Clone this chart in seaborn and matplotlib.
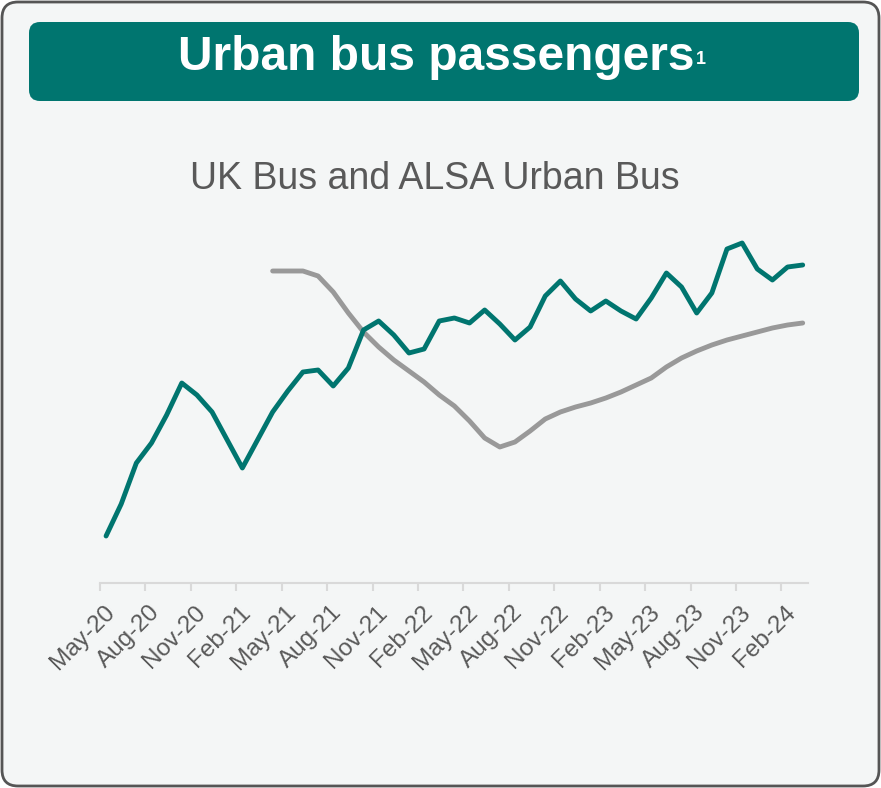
import numpy as np
import pandas as pd
import matplotlib
matplotlib.use("Agg")
import matplotlib.pyplot as plt
import matplotlib.transforms as mtransforms
from matplotlib.patches import FancyBboxPatch
import seaborn as sns

# ---------------- data ----------------
months = pd.date_range("2020-05-01", "2024-03-01", freq="MS").strftime("%b-%y").tolist()

alsa_urban = [47, 79, 120, 140, 168, 200, 188, 171, 143, 115, 143, 171, 192, 211,
              213, 197, 215, 253, 262, 248, 230, 234, 262, 265, 260, 273, 259, 243,
              256, 287, 302, 284, 272, 282, 272, 264, 285, 310, 296, 270, 290, 334,
              340, 314, 303, 316, 318]

uk_bus = [None] * 11 + [312, 312, 312, 307, 291, 270, 251, 236, 223, 212, 201, 188,
                        177, 162, 145, 136, 141, 152, 164, 171, 176, 180, 185, 191,
                        198, 205, 216, 225, 232, 238, 243, 247, 251, 255, 258, 260]

tick_labels = ["May-20", "Aug-20", "Nov-20", "Feb-21", "May-21", "Aug-21", "Nov-21",
               "Feb-22", "May-22", "Aug-22", "Nov-22", "Feb-23", "May-23", "Aug-23",
               "Nov-23", "Feb-24"]

title = "Urban bus passengers"
footnote = "1"
subtitle = "UK Bus and ALSA Urban Bus"

TEAL = "#00756f"
GREY = "#999999"
TEXT = "#595959"

df = pd.DataFrame({"month": months, "idx": np.arange(len(months)),
                   "ALSA": alsa_urban, "UK": uk_bus})
df["UK"] = pd.to_numeric(df["UK"])

# ---------------- figure ----------------
W, H = 881, 788
fig = plt.figure(figsize=(W / 100, H / 100), dpi=100, facecolor="white")
plt.rcParams["font.family"] = ["Liberation Sans", "DejaVu Sans"]

# background axes in pixel units
bg = fig.add_axes([0, 0, 1, 1], zorder=0)
bg.set_xlim(0, W)
bg.set_ylim(H, 0)
bg.axis("off")
bg.add_patch(FancyBboxPatch((2, 2), W - 4, H - 4,
                            boxstyle="round,pad=0,rounding_size=16",
                            facecolor="#f4f6f6", edgecolor="#555555", linewidth=2))
bg.add_patch(FancyBboxPatch((29, 22), 830, 79,
                            boxstyle="round,pad=0,rounding_size=11",
                            facecolor=TEAL, edgecolor="none"))

t = fig.text(436 / W, 1 - 58 / H, title, color="white", fontsize=34.5,
             fontweight="bold", ha="center", va="center")
fig.canvas.draw()
bb = t.get_window_extent()
fig.text((bb.x1 + 2) / W, 1 - 60 / H, footnote, color="white", fontsize=13,
         fontweight="bold", ha="left", va="center")

fig.text(435 / W, 1 - 179 / H, subtitle, color=TEXT, fontsize=27,
         ha="center", va="center")

# ---------------- chart ----------------
ax = fig.add_axes([100 / W, 1 - 583 / H, 708 / W, (583 - 215) / H], zorder=1)
ax.set_facecolor("none")
sns.lineplot(data=df, x="idx", y="UK", ax=ax, color=GREY, linewidth=3.5)
sns.lineplot(data=df, x="idx", y="ALSA", ax=ax, color=TEAL, linewidth=3.5)
for ln in ax.lines:
    ln.set_solid_capstyle("round")
    ln.set_solid_joinstyle("round")

ax.set_xlim(-0.4, 46.35)
ax.set_ylim(0, 368)
ax.set_xlabel("")
ax.set_ylabel("")
ax.set_yticks([])
for s in ["top", "right", "left"]:
    ax.spines[s].set_visible(False)
ax.spines["bottom"].set_color("#d9d9d9")
ax.spines["bottom"].set_linewidth(1.5)

ticks = [3 * k - 0.4 for k in range(len(tick_labels))]
ax.set_xticks(ticks)
ax.set_xticklabels(tick_labels, rotation=45, ha="right", va="center",
                   rotation_mode="anchor", fontsize=17.5, color=TEXT)
ax.tick_params(axis="x", length=6, width=1.5, color="#d9d9d9", pad=2)
offset = mtransforms.ScaledTranslation(11 / 100, -15 / 100, fig.dpi_scale_trans)
for lab in ax.get_xticklabels():
    lab.set_transform(lab.get_transform() + offset)

fig.savefig("out.png", dpi=100, facecolor="white")
